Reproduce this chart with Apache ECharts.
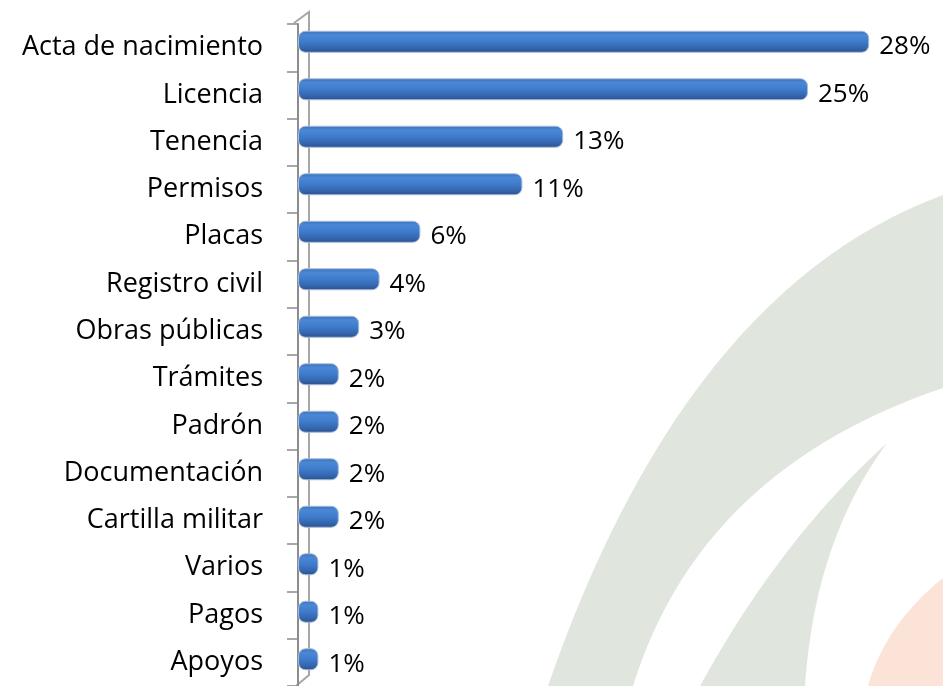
<!DOCTYPE html>
<html>
<head>
<meta charset="utf-8">
<script src="https://cdn.jsdelivr.net/npm/echarts@6/dist/echarts.min.js"></script>
<style>
  html, body { margin: 0; padding: 0; background: #fff; }
  #bar { width: 943px; height: 686px; }
</style>
</head>
<body>
<div id="bar"></div>
<script>
var categories = ["Acta de nacimiento", "Licencia", "Tenencia", "Permisos", "Placas",
  "Registro civil", "Obras públicas", "Trámites", "Padrón", "Documentación",
  "Cartilla militar", "Varios", "Pagos", "Apoyos"];
var values = [28, 25, 13, 11, 6, 4, 3, 2, 2, 2, 2, 1, 1, 1];

var myChart = echarts.init(document.getElementById("bar"));

// quadratic curve -> points, for the watermark outlines
function quad(p0, c, p1) {
  var pts = [];
  for (var i = 0; i <= 30; i++) {
    var t = i / 30, u = 1 - t;
    pts.push([u * u * p0[0] + 2 * u * t * c[0] + t * t * p1[0],
              u * u * p0[1] + 2 * u * t * c[1] + t * t * p1[1]]);
  }
  return pts;
}

var band = quad([943, 195], [685, 290], [548, 686]).concat(quad([633, 686], [700, 470], [943, 388]));
var blade = quad([887, 443], [780, 540], [700, 686]).concat(quad([805, 686], [815, 540], [887, 443]));
var salmon = quad([943, 578], [885, 625], [868, 686]).concat([[943, 686]]);

var decor = [
  { type: "polygon", z: -10, silent: true, shape: { points: band }, style: { fill: "#e0e6de" } },
  { type: "polygon", z: -10, silent: true, shape: { points: blade }, style: { fill: "#e0e6de" } },
  { type: "polygon", z: -10, silent: true, shape: { points: salmon }, style: { fill: "#fbe3d8" } },
  {
    type: "polyline", z: -5, silent: true,
    shape: { points: [[294, 23], [309, 12], [309, 675], [296, 686]] },
    style: { stroke: "#a6a6a6", lineWidth: 2, fill: null }
  }
];

myChart.setOption({
  backgroundColor: "#ffffff",
  animation: false,
  graphic: decor,
  grid: [
    { left: 298, right: 33, top: 24, bottom: -3 },
    { left: 298, right: 33, top: 18, bottom: 3 },
  ],
  xAxis: [
    { type: "value", gridIndex: 0, min: 0, max: 30, show: false },
    { type: "value", gridIndex: 1, min: 0, max: 30, show: false },
  ],
  yAxis: [{
    type: "category",
    gridIndex: 0,
    data: categories,
    inverse: true,
    offset: 4,
    axisLine: {
      show: true,
      lineStyle: { color: "#8c8c8c", width: 2 },
    },
    axisTick: {
      show: true,
      length: 11,
      lineStyle: { color: "#8c8c8c", width: 1.5 },
    },
    axisLabel: {
      margin: 31,
      color: "#000",
      fontSize: 27,
      fontFamily: "Open Sans",
    },
  }, {
    type: "category",
    gridIndex: 1,
    data: categories,
    inverse: true,
    show: false,
  }],
  series: [{
    name: "Trámites",
    type: "bar",
    xAxisIndex: 1,
    yAxisIndex: 1,
    data: values,
    barWidth: 22,
    itemStyle: {
      borderRadius: 7,
      borderColor: "#a9bcd8",
      borderWidth: 1,
      color: new echarts.graphic.LinearGradient(0, 0, 0, 1, [
        { offset: 0, color: "#3a70ba" },
        { offset: 0.2, color: "#4a88d6" },
        { offset: 0.5, color: "#3f7bcb" },
        { offset: 0.8, color: "#3465ad" },
        { offset: 1, color: "#28508c" },
      ]),
    },
    label: {
      show: true,
      position: "right",
      distance: 10,
      offset: [0, 5],
      formatter: "{c}%",
      color: "#000",
      fontSize: 26,
      fontFamily: "Open Sans",
    },
  }],
});
</script>
</body>
</html>
